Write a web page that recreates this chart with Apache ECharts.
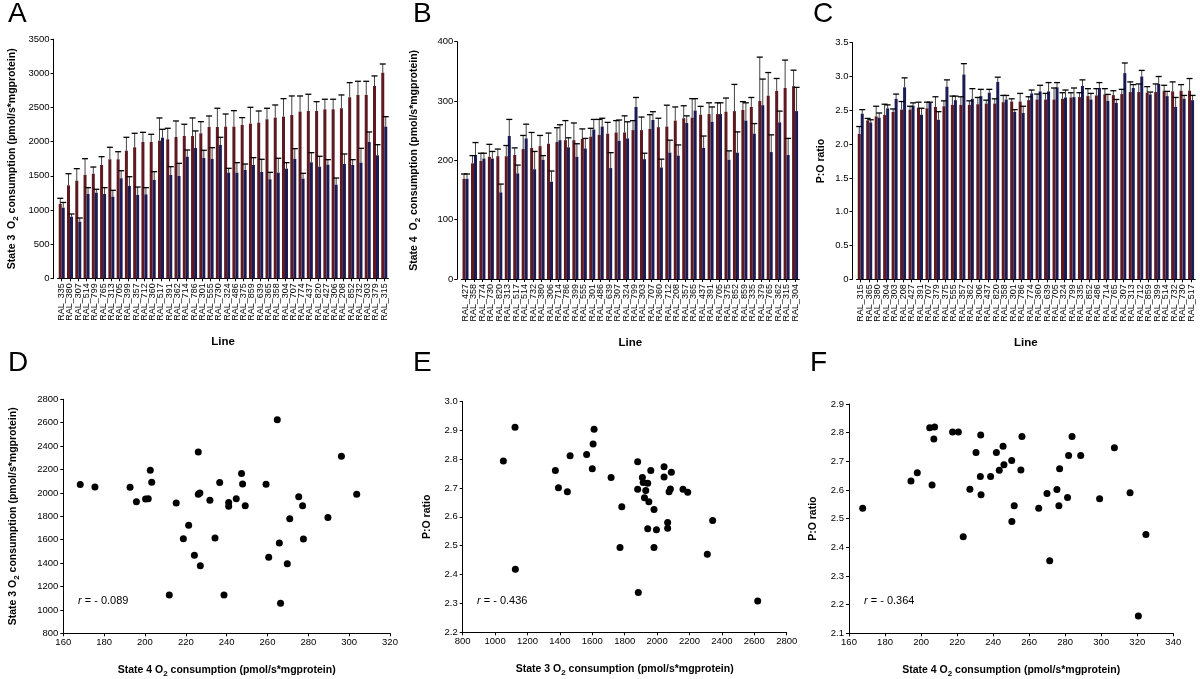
<!DOCTYPE html>
<html>
<head>
<meta charset="utf-8">
<script src="https://cdn.jsdelivr.net/npm/echarts@6/dist/echarts.min.js"></script>
<style>
html, body { margin: 0; background: #fff; }
#main { width: 1200px; height: 679px; }
</style>
</head>
<body>
<div id="main"></div>
<script>
var FONT = '"Liberation Sans", Arial, sans-serif';
var RED = '#5e1a20';
var BLUE = '#1c1c55';

// ---- panel A : state 3 ----
var linesA = ['RAL_335','RAL_380','RAL_307','RAL_514','RAL_799','RAL_765','RAL_313','RAL_705','RAL_399','RAL_357',
  'RAL_712','RAL_360','RAL_517','RAL_391','RAL_362','RAL_714','RAL_786','RAL_301','RAL_555','RAL_730',
  'RAL_324','RAL_486','RAL_375','RAL_859','RAL_639','RAL_365','RAL_358','RAL_304','RAL_707','RAL_774',
  'RAL_437','RAL_820','RAL_427','RAL_306','RAL_208','RAL_852','RAL_732','RAL_303','RAL_379','RAL_315'];
var aRed = [1088,1361,1429,1512,1531,1659,1742,1742,1868,1918,1995,1995,2015,2035,2069,2083,2083,2123,2215,2215,
  2220,2220,2244,2264,2279,2328,2352,2366,2391,2440,2449,2449,2474,2474,2489,2650,2684,2684,2815,3010];
var aRedSe = [83,170,176,239,98,121,176,111,196,205,142,113,332,161,234,172,264,170,161,274,
  185,234,108,239,170,161,185,264,278,229,245,137,147,147,195,214,200,200,147,127];
var aBlue = [1034,902,829,1234,1253,1234,1195,1464,1351,1220,1229,1439,2059,1512,1498,1780,1907,1761,1747,1952,
  1546,1546,1585,1659,1556,1449,1546,1605,1747,1459,1698,1634,1663,1370,1673,1659,1693,1995,1801,2220];
var aBlueSe = [76,39,54,93,50,93,93,111,136,116,98,122,122,122,185,98,250,113,165,112,
  64,147,88,107,186,102,211,88,151,78,141,152,74,98,147,78,210,147,155,146];

// ---- panel B : state 4 ----
var linesB = ['RAL_427','RAL_358','RAL_774','RAL_730','RAL_820','RAL_313','RAL_517','RAL_514','RAL_732','RAL_380',
  'RAL_306','RAL_714','RAL_786','RAL_399','RAL_555','RAL_301','RAL_486','RAL_639','RAL_307','RAL_324',
  'RAL_799','RAL_303','RAL_707','RAL_360','RAL_712','RAL_208','RAL_357','RAL_365','RAL_437','RAL_391',
  'RAL_705','RAL_375','RAL_852','RAL_859','RAL_335','RAL_379','RAL_765','RAL_362','RAL_315','RAL_304'];
var bRed = [169,195,199,206,207,207,209,219,221,224,228,231,234,234,236,240,243,245,247,247,
  251,251,253,256,257,267,271,272,277,278,278,282,283,285,290,300,309,317,322,325];
var bRedSe = [8,13,13,21,12,18,12,23,26,18,18,24,33,29,17,14,26,19,20,28,
  16,22,24,15,36,23,21,32,14,19,19,23,45,14,16,74,39,21,47,27];
var bBlue = [169,209,203,203,146,241,178,237,185,201,164,234,222,206,220,252,257,187,233,237,
  290,202,268,188,213,208,263,284,221,265,278,201,213,267,245,293,214,264,209,283];
var bBlueSe = [8,21,9,12,14,28,14,24,30,7,18,26,16,22,17,17,14,26,35,28,
  16,10,14,14,21,18,12,20,20,25,19,15,35,30,17,44,29,19,28,40];

// ---- panel C : P:O ratio ----
var linesC = ['RAL_315','RAL_365','RAL_380','RAL_304','RAL_303','RAL_208','RAL_427','RAL_391','RAL_707','RAL_379',
  'RAL_375','RAL_555','RAL_357','RAL_362','RAL_306','RAL_437','RAL_820','RAL_358','RAL_301','RAL_786',
  'RAL_774','RAL_360','RAL_639','RAL_705','RAL_324','RAL_799','RAL_335','RAL_852','RAL_486','RAL_714',
  'RAL_765','RAL_307','RAL_313','RAL_712','RAL_859','RAL_399','RAL_514','RAL_732','RAL_730','RAL_517'];
var cRed = [2.15,2.35,2.41,2.43,2.475,2.51,2.51,2.54,2.53,2.55,2.56,2.58,2.58,2.58,2.59,2.60,2.60,2.62,2.63,2.63,
  2.65,2.66,2.66,2.66,2.67,2.69,2.695,2.71,2.72,2.735,2.725,2.74,2.77,2.77,2.76,2.77,2.79,2.78,2.79,2.79];
var cRedSe = [0.11,0.03,0.15,0.16,0.045,0.12,0.05,0.08,0.09,0.15,0.08,0.13,0.12,0.06,0.10,0.05,0.07,0.10,0.04,0.12,
  0.05,0.08,0.09,0.17,0.09,0.07,0.065,0.11,0.10,0.085,0.065,0.07,0.15,0.12,0.09,0.12,0.08,0.14,0.09,0.18];
var cBlue = [2.45,2.32,2.39,2.53,2.67,2.84,2.57,2.435,2.61,2.36,2.85,2.65,3.03,2.67,2.71,2.76,2.92,2.66,2.475,2.46,
  2.75,2.78,2.78,2.84,2.69,2.695,2.86,2.66,2.83,2.64,2.61,3.05,2.83,3.00,2.735,2.89,2.71,2.55,2.67,2.65];
var cBlueSe = [0.06,0.04,0.07,0.05,0.07,0.14,0.04,0.095,0.01,0.12,0.10,0.06,0.16,0.15,0.10,0.05,0.07,0.06,0.035,0.10,
  0.05,0.09,0.13,0.07,0.11,0.135,0.09,0.09,0.08,0.095,0.05,0.15,0.05,0.09,0.035,0.11,0.07,0.14,0.05,0.07];

// ---- panel D : state 4 vs state 3 ----
var dState4 = [168.3,175.5,192.7,195.8,200.3,201.6,202.6,203.3,215.3,221.4,218.8,224.2,226.1,226.1,226.9,227.1,231.8,234.3,236.6,238.7,
  241.0,241.0,244.7,247.3,247.8,249.1,211.9,264.8,259.3,260.6,265.8,266.4,269.7,270.9,275.3,277.2,277.6,289.6,296.2,303.7];
var dState3 = [2071,2051,2048,1925,1948,1951,2193,2091,1914,1723,1609,1467,2350,1988,2000,1378,1937,1615,2088,1128,
  1917,1886,1951,2165,2076,1891,1128,2626,2074,1450,1572,1056,1395,1780,1968,1891,1606,1789,2313,1988];

// ---- panel E : state 3 vs P:O ----
var eState3 = [1051,1123,1125,1372,1391,1446,1463,1565,1600,1605,1611,1716,1771,1782,1880,1880,1884,1909,1914,1922,
  1930,1942,1942,1949,1961,1981,1981,1996,2043,2043,2065,2065,2074,2082,2088,2160,2189,2310,2343,2621];
var ePO = [2.793,2.910,2.418,2.760,2.701,2.687,2.811,2.816,2.766,2.852,2.903,2.736,2.494,2.635,2.791,2.695,2.338,2.736,2.719,2.666,
  2.691,2.716,2.559,2.652,2.760,2.625,2.494,2.555,2.773,2.738,2.580,2.560,2.687,2.696,2.754,2.695,2.685,2.470,2.587,2.308];

// ---- panel F : state 4 vs P:O ----
var fState4 = [167.6,194.4,197.9,204.8,207.5,207.1,206.1,217.5,220.7,223.4,227.1,230.5,233.1,232.9,233.3,238.6,241.8,243.4,245.5,246.0,
  250.3,250.4,251.7,255.4,256.0,265.3,269.9,271.4,275.4,276.9,276.5,281.3,281.9,283.8,288.6,299.1,307.3,316.0,320.6,324.8];
var fPO = [2.536,2.631,2.660,2.817,2.820,2.778,2.617,2.802,2.802,2.437,2.603,2.731,2.792,2.647,2.583,2.647,2.731,2.669,2.753,2.688,
  2.703,2.490,2.545,2.670,2.787,2.536,2.588,2.353,2.602,2.674,2.545,2.574,2.720,2.787,2.720,2.569,2.747,2.590,2.160,2.445];

var nameStyle = {
  fontFamily: FONT, fontWeight: 'bold', fontSize: 10.5, color: '#000',
  rich: { sub: { fontFamily: FONT, fontWeight: 'bold', fontSize: 8, color: '#000', verticalAlign: 'bottom', padding: [6, 0, 0, 0] } }
};
var axisLineStyle = { show: true, lineStyle: { color: '#000', width: 1 } };
var tickStyle = { show: true, length: 3, lineStyle: { color: '#000' } };
var labelStyle = { fontFamily: FONT, fontSize: 9.5, color: '#000' };
var plain = function (v) { return String(v); };
var oneDec = function (v) { return v.toFixed(1); };

var grids = [], xAxes = [], yAxes = [], series = [];

function errSeries(i, vals, se, side) {
  var data = vals.map(function (v, k) { return [k, v, v + se[k]]; });
  return {
    type: 'custom', xAxisIndex: i, yAxisIndex: i, data: data, z: 3, silent: true,
    renderItem: function (params, api) {
      var lo = api.coord([api.value(0), api.value(1)]);
      var hi = api.coord([api.value(0), api.value(2)]);
      var x = lo[0] + side * 1.5;
      return { type: 'group', children: [
        { type: 'line', shape: { x1: x, y1: lo[1], x2: x, y2: hi[1] }, style: { stroke: '#444', lineWidth: 1 } },
        { type: 'line', shape: { x1: x - 3, y1: hi[1], x2: x + 3, y2: hi[1] }, style: { stroke: '#000', lineWidth: 1.3 } }
      ] };
    }
  };
}

function barPanel(i, box, lines, red, redSe, blue, blueSe, yMax, yStep, yName, nameGap, fmt) {
  grids.push(box);
  xAxes.push({
    gridIndex: i, type: 'category', data: lines,
    axisLine: axisLineStyle, axisTick: { show: true, alignWithLabel: true, length: 3, lineStyle: { color: '#000' } },
    axisLabel: { rotate: 90, interval: 0, margin: 5, fontFamily: FONT, fontSize: 9, color: '#000' },
    name: 'Line', nameLocation: 'middle', nameGap: 58,
    nameTextStyle: { fontFamily: FONT, fontWeight: 'bold', fontSize: 11.5, color: '#000' }
  });
  yAxes.push({
    gridIndex: i, type: 'value', min: 0, max: yMax, interval: yStep, offset: 4,
    splitLine: { show: false }, axisLine: axisLineStyle, axisTick: tickStyle,
    axisLabel: Object.assign({ margin: 4, formatter: fmt }, labelStyle),
    name: yName, nameLocation: 'middle', nameRotate: 90, nameGap: nameGap, nameTextStyle: nameStyle
  });
  series.push({ type: 'bar', xAxisIndex: i, yAxisIndex: i, data: red, barWidth: 3, barGap: '0%', itemStyle: { color: RED } });
  series.push({ type: 'bar', xAxisIndex: i, yAxisIndex: i, data: blue, barWidth: 3, barGap: '0%', itemStyle: { color: BLUE } });
  series.push(errSeries(i, red, redSe, -1));
  series.push(errSeries(i, blue, blueSe, 1));
}

function scatterPanel(i, box, xs, ys, xr, yr, xName, yName, yGap, yFmt) {
  grids.push(box);
  xAxes.push({
    gridIndex: i, type: 'value', min: xr[0], max: xr[1], interval: xr[2],
    splitLine: { show: false }, axisLine: axisLineStyle, axisTick: tickStyle,
    axisLabel: Object.assign({ margin: 4, formatter: plain }, labelStyle),
    name: xName, nameLocation: 'middle', nameGap: 30, nameTextStyle: nameStyle
  });
  yAxes.push({
    gridIndex: i, type: 'value', min: yr[0], max: yr[1], interval: yr[2],
    splitLine: { show: false }, axisLine: axisLineStyle, axisTick: tickStyle,
    axisLabel: Object.assign({ margin: 5, formatter: yFmt }, labelStyle),
    name: yName, nameLocation: 'middle', nameRotate: 90, nameGap: yGap, nameTextStyle: nameStyle
  });
  series.push({
    type: 'scatter', xAxisIndex: i, yAxisIndex: i, symbolSize: 7,
    itemStyle: { color: '#000', opacity: 1 },
    data: xs.map(function (x, k) { return [x, ys[k]]; })
  });
}

barPanel(0, { left: 57.6, top: 39.2, width: 330.8, height: 239.1 }, linesA, aRed, aRedSe, aBlue, aBlueSe, 3500, 500,
  'State 3  O{sub|2} consumption (pmol/s*mgprotein)', 34, plain);
barPanel(1, { left: 461.3, top: 41.7, width: 338, height: 237.3 }, linesB, bRed, bRedSe, bBlue, bBlueSe, 400, 100,
  'State 4  O{sub|2} consumption (pmol/s*mgprotein)', 36, plain);
barPanel(2, { left: 856.5, top: 42.7, width: 338.8, height: 236.6 }, linesC, cRed, cRedSe, cBlue, cBlueSe, 3.5, 0.5,
  'P:O ratio', 26, function (v) { return v === 0 ? '0' : v.toFixed(1); });

scatterPanel(3, { left: 63.3, top: 399.3, width: 326.7, height: 234 }, dState4, dState3, [160, 320, 20], [800, 2800, 200],
  'State 4 O{sub|2} consumption (pmol/s*mgprotein)', 'State 3 O{sub|2} consumption (pmol/s*mgprotein)', 43, plain);
scatterPanel(4, { left: 462.7, top: 401.3, width: 324, height: 231 }, eState3, ePO, [800, 2800, 200], [2.2, 3.0, 0.1],
  'State 3 O{sub|2} consumption (pmol/s*mgprotein)', 'P:O ratio', 30, oneDec);
scatterPanel(5, { left: 849, top: 404, width: 324.3, height: 229.3 }, fState4, fPO, [160, 340, 20], [2.1, 2.9, 0.1],
  'State 4 O{sub|2} consumption (pmol/s*mgprotein)', 'P:O ratio', 30, oneDec);

function letter(t, x, y) {
  return { type: 'text', left: x, top: y, style: { text: t, font: '28px "Liberation Sans", Arial, sans-serif', fill: '#000' } };
}
function rText(t, x, y) {
  return { type: 'text', left: x, top: y, style: {
    text: '{i|r} = - ' + t, fill: '#000', font: '11px "Liberation Sans", Arial, sans-serif',
    rich: { i: { fontStyle: 'italic', fontFamily: FONT, fontSize: 11 } }
  } };
}

var chart = echarts.init(document.getElementById('main'));
chart.setOption({
  animation: false,
  backgroundColor: '#fff',
  textStyle: { fontFamily: FONT },
  grid: grids,
  xAxis: xAxes,
  yAxis: yAxes,
  series: series,
  graphic: [
    letter('A', 8, 0), letter('B', 413, 0), letter('C', 813, 0),
    letter('D', 8, 349), letter('E', 413, 349), letter('F', 810, 349),
    rText('0.089', 78, 595), rText('0.436', 477, 595), rText('0.364', 864, 595)
  ]
});
window.onresize = function () { chart.resize(); };
</script>
</body>
</html>
